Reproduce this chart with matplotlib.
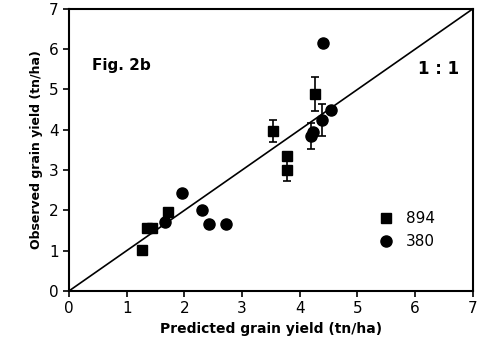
import matplotlib
matplotlib.use('Agg')
import matplotlib.pyplot as plt

# line 894 (squares)
sq_x = [1.27, 1.35, 1.44, 1.72, 3.54, 3.78, 3.78, 4.26]
sq_y = [1.02, 1.57, 1.57, 1.97, 3.97, 3.36, 3.00, 4.89]
sq_err = [0, 0, 0, 0, 0.28, 0, 0.28, 0.42]

# line 380 (circles)
ci_x = [1.66, 1.96, 2.30, 2.43, 2.72, 4.20, 4.23, 4.38, 4.55, 4.40]
ci_y = [1.72, 2.42, 2.00, 1.67, 1.67, 3.85, 3.95, 4.25, 4.50, 6.15]
ci_err = [0, 0, 0, 0, 0, 0.32, 0, 0.40, 0, 0]

fig = plt.figure(figsize=(4.82, 3.54), dpi=100)
ax = fig.add_axes([0.143, 0.178, 0.838, 0.797])

# 1:1 line
ax.plot([0, 7], [0, 7], color='black', lw=1.2)

ax.errorbar(sq_x, sq_y, yerr=sq_err, fmt='s', color='black', ms=6.5,
            capsize=3, elinewidth=1.2, capthick=1.2, label='894')
ax.errorbar(ci_x, ci_y, yerr=ci_err, fmt='o', color='black', ms=8,
            capsize=3, elinewidth=1.2, capthick=1.2, label='380')

ax.set_xlim(0, 7)
ax.set_ylim(0, 7)
ax.set_xticks(range(8))
ax.set_yticks(range(8))
ax.tick_params(direction='out', length=4, width=1.2, labelsize=11)
for s in ax.spines.values():
    s.set_linewidth(1.5)

ax.set_xlabel('Predicted grain yield (tn/ha)', fontsize=10, fontweight='bold')
ax.set_ylabel('Observed grain yield (tn/ha)', fontsize=9, fontweight='bold')

ax.text(0.4, 5.6, 'Fig. 2b', fontsize=11, fontweight='bold', va='center')
ax.text(6.05, 5.5, '1 : 1', fontsize=12, fontweight='bold', va='center')

handles, labels = ax.get_legend_handles_labels()
handles = [h[0] for h in handles]
ax.legend(handles, labels, loc='lower right', bbox_to_anchor=(0.94, 0.1),
          frameon=False, fontsize=11, handletextpad=0.3, labelspacing=0.5)

plt.savefig('out.png', dpi=100)
